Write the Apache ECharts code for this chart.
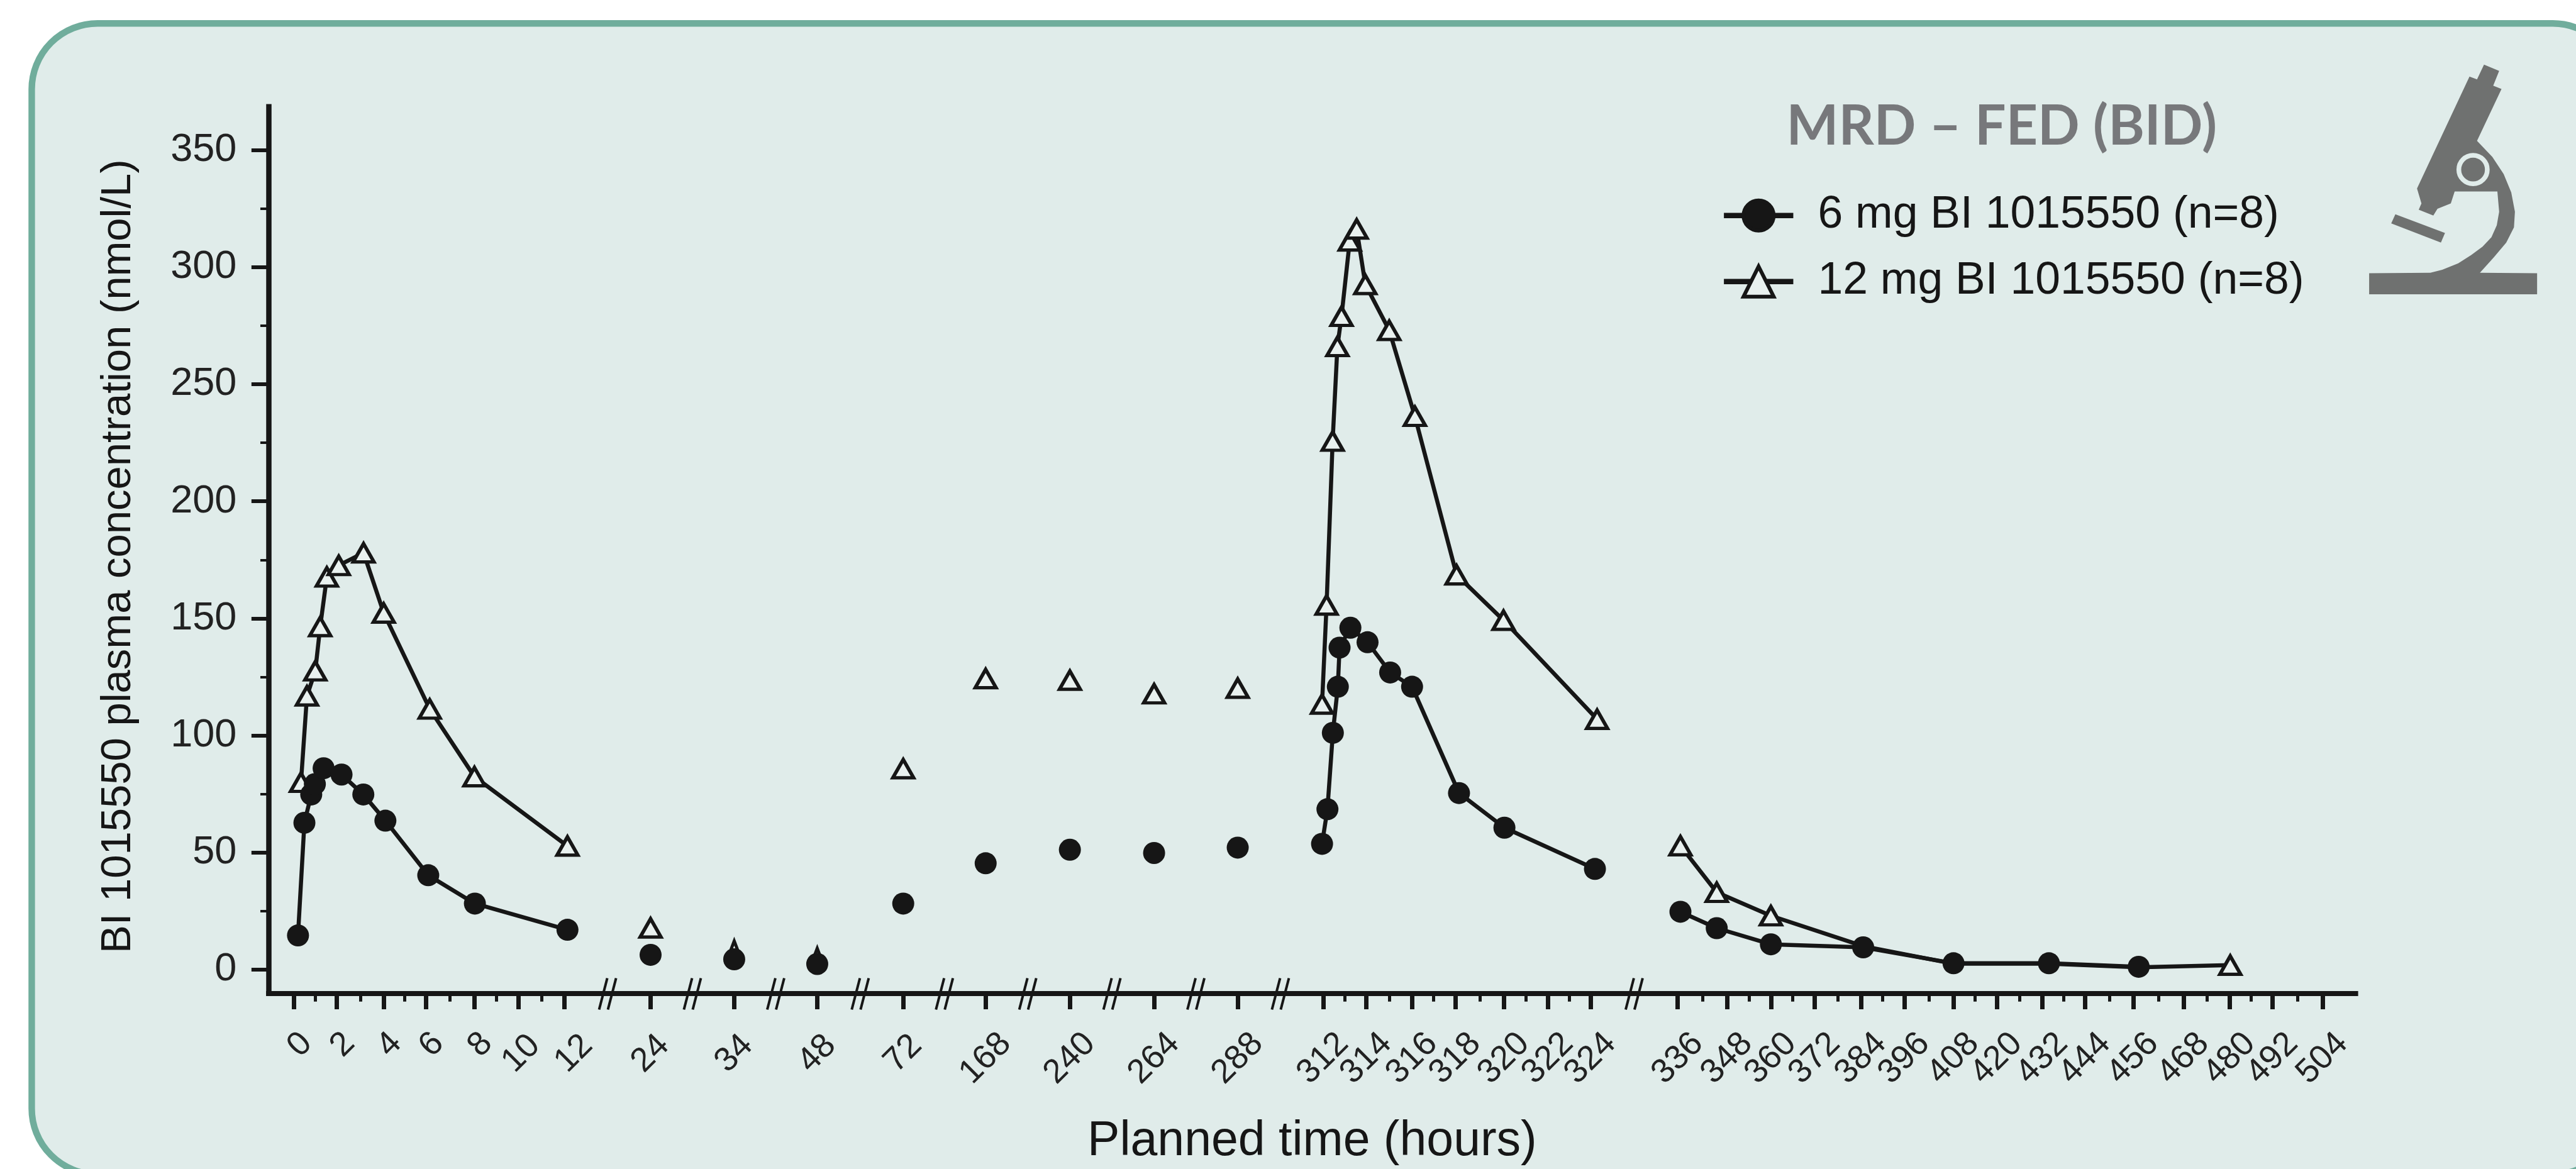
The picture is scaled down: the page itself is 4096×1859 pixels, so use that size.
<!DOCTYPE html>
<html>
<head>
<meta charset="utf-8">
<style>html,body{margin:0;padding:0;background:#fff}#chart{width:4096px;height:1859px}</style>
<script src="https://cdn.jsdelivr.net/npm/echarts@6/dist/echarts.min.js"></script>
</head>
<body>
<div id="chart"></div>
<script>
// ---- Data (hours, nmol/L); null separates unconnected parts ----
const hours6mg = [0.18,0.48,0.8,0.97,1.38,2.2,3.13,4.08,6.1,8.02,12.4,null,24,null,34,null,48,null,72,null,168,null,240,null,264,null,288,null,
  311.7,312.2,312.45,312.68,312.76,313.26,314.05,315.04,316,318.15,320.02,324.6,null,336.65,345.5,360,384.6,408,433.8,457.3];
const conc6mg = [14.6,62.7,74.8,79.2,86,83.3,74.8,63.6,40.3,28.2,17,null,6.3,null,4.4,null,2.4,null,28.2,null,45.4,null,51.2,null,49.8,null,52.1,null,
  53.7,68.5,101.1,120.8,137.5,146,139.8,126.9,120.8,75.4,60.6,43,null,24.7,17.7,10.8,9.5,2.7,2.7,1.2];
const hours12mg = [0.32,0.6,0.99,1.22,1.53,2.08,3.14,4,6.16,8,12.4,null,24,null,34,null,48,null,72,null,168,null,240,null,264,null,288,null,
  311.7,312.16,312.44,312.66,312.85,313.23,313.55,313.95,315,316.13,318.05,319.98,324.9,null,336.65,345.5,360,384.6,408,433.8,457.3,480.1];
const conc12mg = [80,116.9,127.6,146.5,167.7,172.6,178,152.3,111.3,82.4,52.8,null,17.8,null,8.3,null,5.2,null,85.8,null,124.3,null,123.6,null,117.8,null,120.2,null,
  113.4,155.7,225.7,266.1,279,311.2,316.3,292.6,273,236.3,168.6,149.2,106.9,null,52.9,33,23,10,2.5,2.5,1,1.9];
// 12 mg points that sit under a 6 mg disc in the picture
const narrowTriangleHours = [34,48];
const coveredTriangleHours = [384.6,408,433.8,457.3];
const seriesNames = ['6 mg BI 1015550 (n=8)','12 mg BI 1015550 (n=8)'];
const titleText = 'MRD \u2013 FED (BID)';
const yAxisTitle = 'BI 1015550 plasma concentration (nmol/L)';
const xAxisTitle = 'Planned time (hours)';
const yMajorTicks = [0,50,100,150,200,250,300,350];
const yMinorTicks = [25,75,125,175,225,275,325];
const xTickHours = [0,2,4,6,8,10,12,24,34,48,72,168,240,264,288,312,314,316,318,320,322,324,
  336,348,360,372,384,396,408,420,432,444,456,468,480,492,504];
const xMinorHours = [1,3,5,7,9,11,313,315,317,319,321,323,
  342,354,366,378,390,402,414,426,438,450,462,474,486,498];
const xBreakHours = [18,29,41,60,120,204,252,276,300,330];

// ---- Layout of the broken time axis: axis units for every labelled hour ----
const xTickStops = [496,568,647,718,800,874,952,1097,1238,1378,1523,1662,1804,1946,2087,2231,2304,2381,2454,2536,2610,2682,
  2829,2912,2986,3060,3138,3211,3294,3367,3444,3516,3597,3682,3760,3832,3916];
const S = 0.943;
const px = v => v * S;
function hourToAxis(h){
  if (h == null) return null;
  let i = 0;
  while (i < xTickHours.length - 2 && h > xTickHours[i + 1]) i++;
  const t = (h - xTickHours[i]) / (xTickHours[i + 1] - xTickHours[i]);
  return xTickStops[i] + t * (xTickStops[i + 1] - xTickStops[i]);
}
const toPairs = (hs, cs) => hs.map((h, i) => [hourToAxis(h), cs[i]]);
const ink = '#161616';
const sans = '"Liberation Sans", Arial, sans-serif';
const X_MIN = 453, X_MAX = 3972, Y_MIN = -10.1, Y_MAX = 368.5;

function labelAxis(hours, margin, shift){
  const byPos = new Map(hours.map(h => [hourToAxis(h) + shift, h]));
  return {
    type:'value', position:'bottom', min:X_MIN, max:X_MAX, splitLine:{show:false},
    axisLine:{show:false,onZero:false}, axisTick:{show:false},
    axisLabel:{show:true, customValues:[...byPos.keys()], rotate:45, align:'center', verticalAlign:'middle',
      showMinLabel:true, showMaxLabel:true, hideOverlap:false,
      margin:px(margin), fontFamily:sans, fontSize:54, color:'#222',
      formatter:v => String(byPos.get(v))}
  };
}
const labelGroupA = xTickHours.filter(h => h < 10);
const labelGroupC = xTickHours.filter(h => h > 12 && h < 100);
const labelGroupD = xTickHours.filter(h => h >= 100);

const microscopeBody = [[4188.5,108.9],[4214,119.6],[4204,144.6],[4218,150],[4176.7,237.5],[4202.5,264.7],[4221.6,293.6],[4234.4,324.4],[4240.6,357],
  [4239,383.3],[4226,409],[4205,434],[4181.6,460],[4278,460.7],[4278,496.4],[3994.8,496.4],[3994.8,460.7],[4098,460],
  [4118,455],[4145,444],[4167,430],[4186,416],[4201,400],[4210,380],[4214,357],[4211,323],[4139,323],[4132.5,343],[4110,352],[4103,363.6],[4078.4,353.6],[4083,343],[4075.5,318],[4164,129],[4176.7,134]];
const microscopeSlide = [[4039,361.4],[4122.7,392.9],[4115.8,409],[4032,376.8]];

const triangleData = toPairs(hours12mg, conc12mg).map((p, i) => {
  const h = hours12mg[i];
  if (coveredTriangleHours.includes(h)) return {value:p, symbol:'none'};
  if (narrowTriangleHours.includes(h)) return {value:p, symbolSize:[22,29]};
  return p;
});

const option = {
  backgroundColor:'#ffffff',
  animation:false,
  title:{ text:titleText, left:px(3007), top:px(162),
    textStyle:{fontFamily:'Lato, "Open Sans", sans-serif', fontWeight:700, fontSize:px(93), color:'#77787b'} },
  legend:{ show:true, orient:'vertical', left:px(2897), top:px(320), itemWidth:px(117), itemHeight:60, itemGap:33,
    lineStyle:{width:8.5}, itemStyle:{borderWidth:6}, selectedMode:false, data:seriesNames,
    textStyle:{fontFamily:sans, fontSize:71.5, color:ink, padding:[0,0,0,34]} },
  grid:{ left:px(X_MIN), right:4096-px(X_MAX), top:px(180), bottom:1859-px(1675), containLabel:false, outerBoundsMode:'none' },
  xAxis:[
    { type:'value', position:'bottom', min:X_MIN, max:X_MAX, splitLine:{show:false},
      name:xAxisTitle, nameLocation:'center', nameGap:px(251),
      nameTextStyle:{fontFamily:sans, fontSize:77, color:ink, verticalAlign:'middle'},
      axisLine:{show:true,onZero:false,lineStyle:{color:ink,width:8,cap:'square'}},
      axisTick:{show:true,customValues:xTickHours.map(hourToAxis),length:px(27),lineStyle:{color:ink,width:7}},
      axisLabel:{show:false} },
    { type:'value', position:'bottom', min:X_MIN, max:X_MAX, splitLine:{show:false},
      axisLine:{show:false,onZero:false},
      axisTick:{show:true,customValues:xMinorHours.map(hourToAxis),length:px(14),lineStyle:{color:ink,width:5}},
      axisLabel:{show:false} },
    labelAxis(labelGroupA, 87, 10),
    labelAxis([10], 102, 5),
    labelAxis([12], 102, 16),
    labelAxis(labelGroupC, 102, 0),
    labelAxis(labelGroupD, 110, 0)
  ],
  yAxis:[
    { type:'value', min:Y_MIN, max:Y_MAX, splitLine:{show:false},
      name:yAxisTitle, nameLocation:'center', nameGap:px(253), nameRotate:90,
      nameTextStyle:{fontFamily:sans, fontSize:67, color:ink, verticalAlign:'middle', padding:[0,20,0,0]},
      axisLine:{show:true,onZero:false,lineStyle:{color:ink,width:8.5,cap:'square'}},
      axisTick:{show:true,customValues:yMajorTicks,length:px(29),lineStyle:{color:ink,width:6}},
      axisLabel:{customValues:yMajorTicks,margin:px(54),fontFamily:sans,fontSize:63,color:'#222'} },
    { type:'value', min:Y_MIN, max:Y_MAX, position:'left', splitLine:{show:false},
      axisLine:{show:false,onZero:false},
      axisTick:{show:true,customValues:yMinorTicks,length:px(14),lineStyle:{color:ink,width:4}},
      axisLabel:{show:false} }
  ],
  graphic:[
    { type:'group', x:0, y:0, scaleX:S, scaleY:S, z:-100, silent:true, children:[
      { type:'rect', z:-100, shape:{x:53.5,y:39.5,width:4362,height:1941,r:111},
        style:{fill:'#e0ecea',stroke:'#70ad9c',lineWidth:11} },
      { type:'polygon', z:-99, shape:{points:microscopeBody}, style:{fill:'#6f7170'} },
      { type:'polygon', z:-99, shape:{points:microscopeSlide}, style:{fill:'#6f7170'} },
      { type:'circle', z:-98, shape:{cx:4170,cy:286,r:24}, style:{fill:'#6f7170',stroke:'#e0ecea',lineWidth:8} }
    ]}
  ],
  series:[
    { name:seriesNames[0], type:'line', xAxisIndex:0, yAxisIndex:0, z:4, clip:false,
      data:toPairs(hours6mg, conc6mg), symbol:'circle', symbolSize:35, connectNulls:false, showSymbol:true,
      lineStyle:{color:ink,width:6.5,join:'round'}, itemStyle:{color:ink,borderColor:ink,borderWidth:0},
      emphasis:{disabled:true}, silent:true },
    { name:seriesNames[1], type:'line', xAxisIndex:0, yAxisIndex:0, z:3, clip:false,
      data:triangleData, symbol:'triangle', symbolSize:[33,29], connectNulls:false, showSymbol:true,
      lineStyle:{color:ink,width:6.5,join:'round'}, itemStyle:{color:'#e9f1ef',borderColor:ink,borderWidth:5.5},
      emphasis:{disabled:true}, silent:true },
    { name:'axis breaks', type:'custom', xAxisIndex:0, yAxisIndex:0, z:5, clip:false, silent:true,
      data:xBreakHours.map(h => [hourToAxis(h)]),
      renderItem:(params, api) => {
        const c = api.coord([api.value(0), Y_MIN]);
        const slash = dx => ({type:'line',
          shape:{x1:c[0]+dx-6.5,y1:c[1]+26,x2:c[0]+dx+6.5,y2:c[1]-24},
          style:{stroke:ink,lineWidth:4,fill:null}});
        return {type:'group',children:[slash(-7),slash(7)]};
      } }
  ]
};
const chart = echarts.init(document.getElementById('chart'), null, {renderer:'canvas',width:4096,height:1859});
chart.setOption(option);
</script>
</body>
</html>
